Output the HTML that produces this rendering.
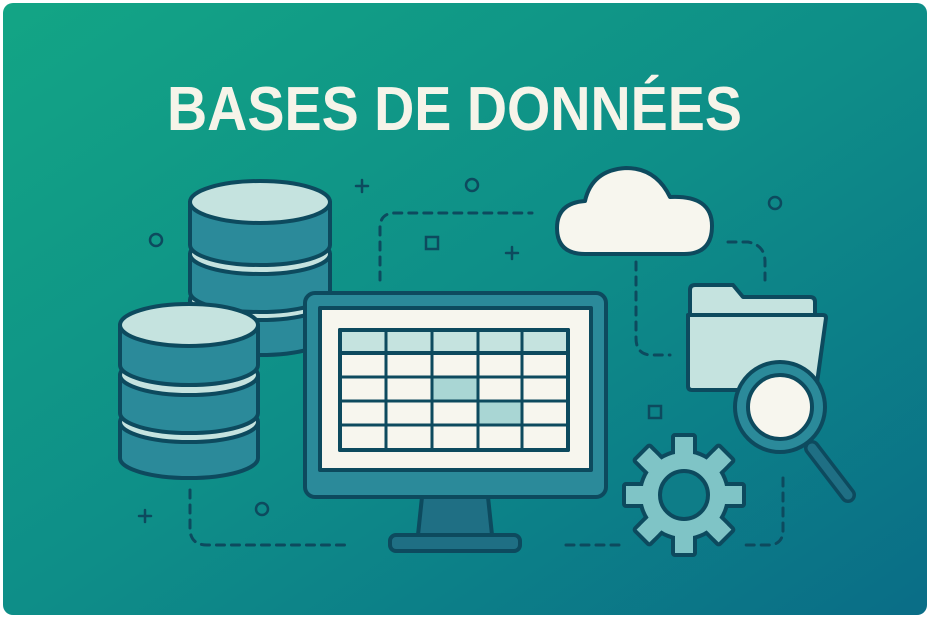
<!DOCTYPE html>
<html><head><meta charset="utf-8"><style>
html,body{margin:0;padding:0;background:#fff;width:931px;height:619px;overflow:hidden}
</style></head><body>
<svg width="931" height="619" viewBox="0 0 931 619" xmlns="http://www.w3.org/2000/svg">
<defs>
<linearGradient id="bg" x1="0" y1="0" x2="1" y2="1">
<stop offset="0" stop-color="#13a585"/><stop offset="0.5" stop-color="#0e8e88"/><stop offset="1" stop-color="#0a6d87"/>
</linearGradient>
</defs>
<rect x="3" y="3" width="924" height="612" rx="10" fill="url(#bg)"/>
<text x="167" y="130" textLength="575" lengthAdjust="spacingAndGlyphs" font-family="Liberation Sans, sans-serif" font-weight="bold" font-size="62" fill="#f6f4e9">BASES DE DONNÉES</text>

<g fill="none" stroke="#0d4a5e" stroke-width="3" stroke-dasharray="8 7" stroke-linecap="round">
<path d="M380 280 V228 Q380 213 395 213 H532"/>
<path d="M636 262 V338 Q636 355 652 355 H670"/>
<path d="M728 242 H748 Q765 245 765 262 V280"/>
<path d="M190 490 V528 Q190 545 207 545 H345"/>
<path d="M566 545 H622"/>
<path d="M783 478 V530 Q783 545 768 545 H745"/>
</g>

<g stroke="#0d4a5e" stroke-width="2.5" fill="none" stroke-linecap="round">
<path d="M362 180 V192 M356 186 H368"/>
<path d="M512 247 V259 M506 253 H518"/>
<path d="M145 510 V522 M139 516 H151"/>
<circle cx="472" cy="185" r="6"/>
<circle cx="156" cy="240" r="6"/>
<circle cx="775" cy="203" r="6"/>
<circle cx="262" cy="509" r="6"/>
<rect x="426" y="237" width="12" height="12"/>
<rect x="649" y="406" width="12" height="12"/>
</g>

<g stroke="#0d4a5e" stroke-width="4" stroke-linejoin="round">
<path d="M190 300 V335 A70 20 0 0 0 330 335 V300 Z" fill="#2b8a9a"/>
<ellipse cx="260" cy="300" rx="70" ry="20" fill="#c5e3df"/>
<path d="M190 254 V292 A70 20 0 0 0 330 292 V254 Z" fill="#2b8a9a"/>
<ellipse cx="260" cy="254" rx="70" ry="20" fill="#c5e3df"/>
<path d="M190 202 V245 A70 20 0 0 0 330 245 V202 Z" fill="#2b8a9a"/>
<ellipse cx="260" cy="202" rx="70" ry="21" fill="#c5e3df"/>
<path d="M120 422 V458 A69 20 0 0 0 258 458 V422 Z" fill="#2b8a9a"/>
<ellipse cx="189" cy="422" rx="69" ry="20" fill="#c5e3df"/>
<path d="M120 375 V413 A69 20 0 0 0 258 413 V375 Z" fill="#2b8a9a"/>
<ellipse cx="189" cy="375" rx="69" ry="20" fill="#c5e3df"/>
<path d="M120 325 V365 A69 20 0 0 0 258 365 V325 Z" fill="#2b8a9a"/>
<ellipse cx="189" cy="325" rx="69" ry="21" fill="#c5e3df"/>

<path d="M422 497 L418 535 H492 L488 497 Z" fill="#1f6f84"/>
<rect x="390" y="535" width="130" height="16" rx="6" fill="#1f6f84"/>
<rect x="305" y="293" width="301" height="204" rx="10" fill="#2b8a9a"/>
<rect x="320" y="308" width="271" height="162" fill="#f7f6ee"/>
<rect x="340" y="330" width="228" height="120" fill="#f7f6ee"/>
<rect x="340" y="330" width="228" height="23" fill="#c5e3df"/>
<rect x="432" y="377" width="46" height="23" fill="#a9d6d4" stroke="none"/>
<rect x="478" y="401" width="44" height="23" fill="#a9d6d4" stroke="none"/>
<path d="M340 353 H568 M340 377 H568 M340 401 H568 M340 425 H568 M386 330 V450 M432 330 V450 M478 330 V450 M522 330 V450" fill="none" stroke-width="3"/>
<rect x="340" y="330" width="228" height="120" fill="none"/>

<path d="M585 254 Q557 254 557 228 Q557 203 585 201 Q592 170 626 168 Q656 168 670 197 Q712 195 712 226 Q712 254 684 254 Z" fill="#f7f6ee"/>

<path d="M690 290 Q690 285 695 285 H733 L743 297 H810 Q815 297 815 302 V318 H690 Z" fill="#c5e3df"/>
<path d="M688 315 H823 Q826 315 826 318 L816 390 H692 Q688 390 688 386 Z" fill="#c5e3df"/>

<path d="M812 448 L848 495" stroke-width="16" stroke-linecap="round" fill="none"/>
<path d="M812 448 L848 495" stroke="#1f6f84" stroke-width="9" stroke-linecap="round" fill="none"/>
<circle cx="780" cy="407" r="45" fill="#2b8a9a"/>
<circle cx="780" cy="407" r="32" fill="#f7f6ee"/>

<g transform="translate(684 495)">
<g fill="#7fc4c6">
<rect x="-11" y="-60" width="22" height="24" rx="2"/>
<rect x="-11" y="-60" width="22" height="24" rx="2" transform="rotate(45)"/>
<rect x="-11" y="-60" width="22" height="24" rx="2" transform="rotate(90)"/>
<rect x="-11" y="-60" width="22" height="24" rx="2" transform="rotate(135)"/>
<rect x="-11" y="-60" width="22" height="24" rx="2" transform="rotate(180)"/>
<rect x="-11" y="-60" width="22" height="24" rx="2" transform="rotate(225)"/>
<rect x="-11" y="-60" width="22" height="24" rx="2" transform="rotate(270)"/>
<rect x="-11" y="-60" width="22" height="24" rx="2" transform="rotate(315)"/>
</g>
<circle r="44" fill="#7fc4c6"/>
<g fill="#7fc4c6" stroke="none">
<rect x="-9" y="-52" width="18" height="14"/>
<rect x="-9" y="-52" width="18" height="14" transform="rotate(45)"/>
<rect x="-9" y="-52" width="18" height="14" transform="rotate(90)"/>
<rect x="-9" y="-52" width="18" height="14" transform="rotate(135)"/>
<rect x="-9" y="-52" width="18" height="14" transform="rotate(180)"/>
<rect x="-9" y="-52" width="18" height="14" transform="rotate(225)"/>
<rect x="-9" y="-52" width="18" height="14" transform="rotate(270)"/>
<rect x="-9" y="-52" width="18" height="14" transform="rotate(315)"/>
</g>
<circle r="24" fill="#0e7d88"/>
</g>
</g>
</svg>
</body></html>
